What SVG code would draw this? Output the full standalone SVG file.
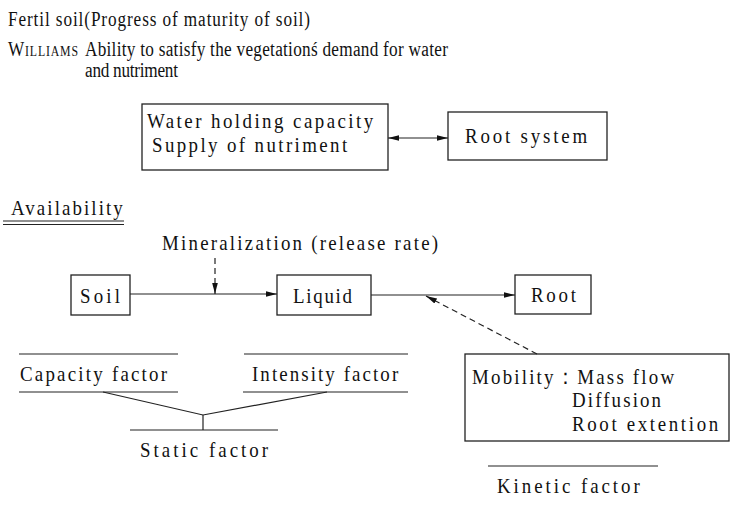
<svg xmlns="http://www.w3.org/2000/svg" width="736" height="505" viewBox="0 0 736 505">
<style>
text{font-family:"Liberation Serif","Times New Roman",serif;font-size:22px;fill:#111}
.hd{font-size:20.5px}
.box{fill:none;stroke:#222;stroke-width:1.3}
.ln{fill:none;stroke:#222;stroke-width:1.2}
.dash{fill:none;stroke:#222;stroke-width:1.2;stroke-dasharray:6 4}
</style>
<defs>
<marker id="ah" viewBox="0 0 10 10" refX="10" refY="5" markerWidth="11" markerHeight="7" markerUnits="userSpaceOnUse" orient="auto-start-reverse" preserveAspectRatio="none">
<path d="M0,1 L10,5 L0,9 Z" fill="#111"/>
</marker>
</defs>
<g id="header">
<text class="hd" transform="matrix(0.84 0 0 1 8 26)" textLength="359.5" lengthAdjust="spacing">Fertil soil(Progress of maturity of soil)</text>
<text class="hd" transform="matrix(0.84 0 0 1 8 56)" font-variant="small-caps" textLength="83.3" lengthAdjust="spacing">Williams</text>
<text class="hd" transform="matrix(0.84 0 0 1 85 56)" textLength="432" lengthAdjust="spacing">Ability to satisfy the vegetationś demand for water</text>
<text class="hd" transform="matrix(0.84 0 0 1 85 77)" textLength="110.7" lengthAdjust="spacing">and nutriment</text>
</g>
<g id="node-water">
<rect class="box" x="142" y="104" width="246" height="66"/>
<text transform="matrix(0.86 0 0 1 147 128)" textLength="263" lengthAdjust="spacing">Water holding capacity</text>
<text transform="matrix(0.86 0 0 1 152 152)" textLength="227" lengthAdjust="spacing">Supply of nutriment</text>
</g>
<g id="node-rootsystem">
<rect class="box" x="448" y="112" width="159" height="48"/>
<text transform="matrix(0.86 0 0 1 465 143)" textLength="142" lengthAdjust="spacing">Root system</text>
</g>
<g id="availability">
<text transform="matrix(0.86 0 0 1 11 215)" textLength="130" lengthAdjust="spacing">Availability</text>
<line class="ln" x1="3" y1="221" x2="124" y2="221"/>
<line class="ln" x1="3" y1="224.5" x2="124" y2="224.5"/>
</g>
<g id="label-mineralization">
<text transform="matrix(0.86 0 0 1 162 250)" textLength="321" lengthAdjust="spacing">Mineralization (release rate)</text>
</g>
<g id="node-soil">
<rect class="box" x="71" y="275" width="59" height="40"/>
<text transform="matrix(0.86 0 0 1 80 303)" textLength="46.5" lengthAdjust="spacing">Soil</text>
</g>
<g id="node-liquid">
<rect class="box" x="277" y="275" width="94" height="40"/>
<text transform="matrix(0.86 0 0 1 293 303)" textLength="68.6" lengthAdjust="spacing">Liquid</text>
</g>
<g id="node-root">
<rect class="box" x="515" y="275" width="76" height="39"/>
<text transform="matrix(0.86 0 0 1 531 302)" textLength="52.3" lengthAdjust="spacing">Root</text>
</g>
<g id="node-mobility">
<rect class="box" x="465" y="354" width="264" height="87"/>
<text transform="matrix(0.86 0 0 1 472 384)" textLength="235" lengthAdjust="spacing">Mobility：Mass flow</text>
<text transform="matrix(0.86 0 0 1 572 407)" textLength="103.5" lengthAdjust="spacing">Diffusion</text>
<text transform="matrix(0.86 0 0 1 572 431)" textLength="170" lengthAdjust="spacing">Root extention</text>
</g>
<g id="node-capacity">
<line class="ln" x1="19" y1="354" x2="178" y2="354"/>
<text transform="matrix(0.86 0 0 1 20 381)" textLength="171" lengthAdjust="spacing">Capacity factor</text>
<line class="ln" x1="19" y1="392" x2="178" y2="392"/>
</g>
<g id="node-intensity">
<line class="ln" x1="244" y1="354" x2="408" y2="354"/>
<text transform="matrix(0.86 0 0 1 252 381)" textLength="170" lengthAdjust="spacing">Intensity factor</text>
<line class="ln" x1="243" y1="392" x2="408" y2="392"/>
</g>
<g id="node-static">
<line class="ln" x1="130" y1="430" x2="278" y2="430"/>
<text transform="matrix(0.86 0 0 1 140 457)" textLength="149" lengthAdjust="spacing">Static factor</text>
</g>
<g id="node-kinetic">
<line class="ln" x1="488" y1="466" x2="658" y2="466"/>
<text transform="matrix(0.86 0 0 1 497 493)" textLength="166" lengthAdjust="spacing">Kinetic factor</text>
</g>
<g id="connectors">
<line class="ln" x1="388" y1="138" x2="448" y2="138" marker-start="url(#ah)" marker-end="url(#ah)"/>
<line class="ln" x1="130" y1="294" x2="277" y2="294" marker-end="url(#ah)"/>
<line class="dash" x1="215" y1="258" x2="215" y2="294" marker-end="url(#ah)"/>
<line class="ln" x1="371" y1="295" x2="515" y2="295" marker-end="url(#ah)"/>
<line class="dash" x1="537" y1="354" x2="426" y2="296" marker-end="url(#ah)"/>
<polyline class="ln" points="103,392 203,415 327,392"/>
<line class="ln" x1="203" y1="415" x2="203" y2="430"/>
</g>
</svg>
